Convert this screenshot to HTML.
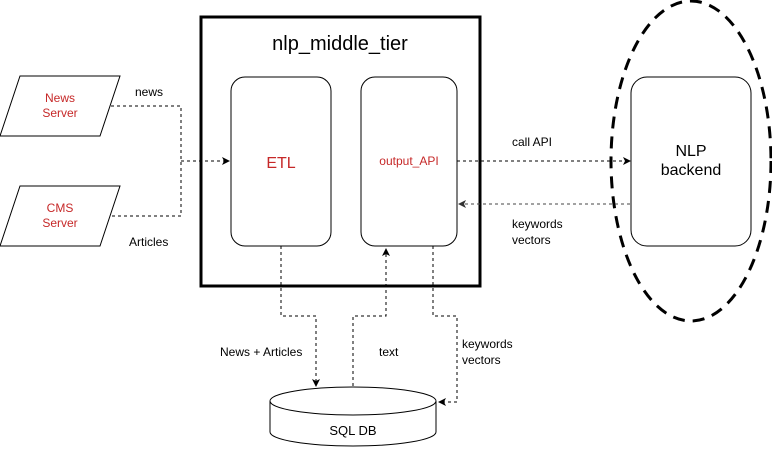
<!DOCTYPE html>
<html><head><style>
html,body{margin:0;padding:0;background:#fff;}
svg text{font-family:"Liberation Sans",Arial,sans-serif;}
</style></head><body>
<svg width="772" height="447" viewBox="0 0 772 447" xmlns="http://www.w3.org/2000/svg">
<defs>
<marker id="a" markerWidth="8" markerHeight="8" refX="7" refY="4" orient="auto" markerUnits="userSpaceOnUse">
<path d="M0,0 L8,4 L0,8 L2,4 Z" fill="#000"/></marker>
<marker id="g" markerWidth="8" markerHeight="8" refX="7" refY="4" orient="auto" markerUnits="userSpaceOnUse">
<path d="M0,0 L8,4 L0,8 L2,4 Z" fill="#333"/></marker>
</defs>
<rect x="201" y="17" width="279" height="269" fill="none" stroke="#000" stroke-width="3"/>
<text x="340" y="50" font-size="20" text-anchor="middle">nlp_middle_tier</text>
<rect x="231" y="77" width="100" height="169" rx="14" fill="#fff" stroke="#000"/>
<text x="281" y="168" font-size="16" fill="#c62828" text-anchor="middle">ETL</text>
<rect x="361" y="77" width="96" height="169" rx="14" fill="#fff" stroke="#000"/>
<text x="409" y="165" font-size="12" fill="#c62828" text-anchor="middle">output_API</text>
<ellipse cx="691" cy="161" rx="80" ry="160" fill="none" stroke="#000" stroke-width="3" stroke-dasharray="12,8"/>
<rect x="631" y="77" width="120" height="169" rx="16" fill="#fff" stroke="#000"/>
<text x="691" y="156" font-size="16" text-anchor="middle">NLP</text>
<text x="691" y="175" font-size="16" text-anchor="middle">backend</text>
<polygon points="0,136 20,76 120,76 100,136" fill="#fff" stroke="#000"/>
<text x="60" y="102" font-size="12" fill="#c62828" text-anchor="middle">News</text>
<text x="60" y="117" font-size="12" fill="#c62828" text-anchor="middle">Server</text>
<polygon points="0,246 20,186 120,186 100,246" fill="#fff" stroke="#000"/>
<text x="60" y="212" font-size="12" fill="#c62828" text-anchor="middle">CMS</text>
<text x="60" y="227" font-size="12" fill="#c62828" text-anchor="middle">Server</text>
<g fill="none" stroke="#000" stroke-dasharray="3,3">
<polyline points="111,106 181,106 181,216 111,216"/>
<line x1="181" y1="161" x2="229" y2="161" marker-end="url(#a)"/>
<line x1="457" y1="161" x2="630" y2="161" marker-end="url(#a)"/>
<line x1="630" y1="204" x2="459" y2="204" stroke="#444" marker-end="url(#g)"/>
<polyline points="281,246 281,316 316,316 316,386" marker-end="url(#a)"/>
<polyline points="353,386 353,316 386,316 386,249" marker-end="url(#a)"/>
<polyline points="433,246 433,316 457,316 457,402 439,402" marker-end="url(#a)"/>
</g>
<text x="135" y="96" font-size="12">news</text>
<text x="129" y="246" font-size="12">Articles</text>
<text x="512" y="146" font-size="12">call API</text>
<text x="512" y="228" font-size="12">keywords</text>
<text x="512" y="244" font-size="12">vectors</text>
<text x="220" y="356" font-size="12">News + Articles</text>
<text x="379" y="356" font-size="12">text</text>
<text x="462" y="348" font-size="12">keywords</text>
<text x="462" y="364" font-size="12">vectors</text>
<path d="M270,401 L270,432 A83,14 0 0 0 436,432 L436,401" fill="#fff" stroke="#000"/>
<ellipse cx="353" cy="401" rx="83" ry="14" fill="#fff" stroke="#000"/>
<text x="353" y="435" font-size="13" text-anchor="middle">SQL DB</text>
</svg>
</body></html>
